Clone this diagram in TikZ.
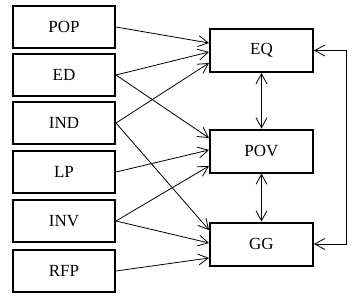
\documentclass[tikz,border=0pt]{standalone}
\usepackage{fontspec}
\setmainfont{Liberation Serif}
\usetikzlibrary{arrows.meta,positioning}

\begin{document}
\begin{tikzpicture}[
x=1pt, y=1pt,
font=\fontsize{17}{20}\selectfont,
factor/.style={draw,line width=2pt,minimum width=102pt,minimum height=42pt,inner sep=0pt},
outcome/.style={draw,line width=2pt,minimum width=103pt,minimum height=43pt,inner sep=0pt},
effect/.style={-{Straight Barb[length=10pt,width=11pt]},line width=0.8pt},
mutual/.style={{Straight Barb[length=10pt,width=11pt]}-{Straight Barb[length=10pt,width=11pt]},line width=0.8pt}
]
    \useasboundingbox (0,0) rectangle (354,-298);

    % Draw left column
    \node[factor] (pop) at (64,-27) {POP};
    \node[factor] (ed)  at (64,-75) {ED};
    \node[factor] (ind) at (64,-123) {IND};
    \node[factor] (lp)  at (64,-172) {LP};
    \node[factor] (inv) at (64,-221) {INV};
    \node[factor] (rfp) at (64,-271) {RFP};

    % Draw right column
    \node[outcome] (eq)  at (261.5,-50.5) {EQ};
    \node[outcome] (pov) at (261.5,-151) {POV};
    \node[outcome] (gg)  at (261.5,-244) {GG};

    % Into EQ
    \draw[effect] (pop.east) -- ([yshift=7.5]eq.west);
    \draw[effect] (ed.east) -- ([yshift=-1.5]eq.west);
    \draw[effect] (ind.east) -- ([yshift=-12.5]eq.west);

    % Into POV
    \draw[effect] (ed.east) -- ([yshift=13]pov.west);
    \draw[effect] (lp.east) -- ([yshift=1]pov.west);
    \draw[effect] (inv.east) -- ([yshift=-15]pov.west);

    % Into GG
    \draw[effect] (ind.east) -- ([yshift=14]gg.west);
    \draw[effect] (inv.east) -- ([yshift=1]gg.west);
    \draw[effect] (rfp.east) -- ([yshift=-14]gg.west);

    % Links between outcomes
    \draw[mutual] (eq) -- (pov);
    \draw[mutual] (pov) -- (gg);
    \draw[mutual] (eq.east) -- ++(32,0) |- (gg.east);

\end{tikzpicture}
\end{document}
